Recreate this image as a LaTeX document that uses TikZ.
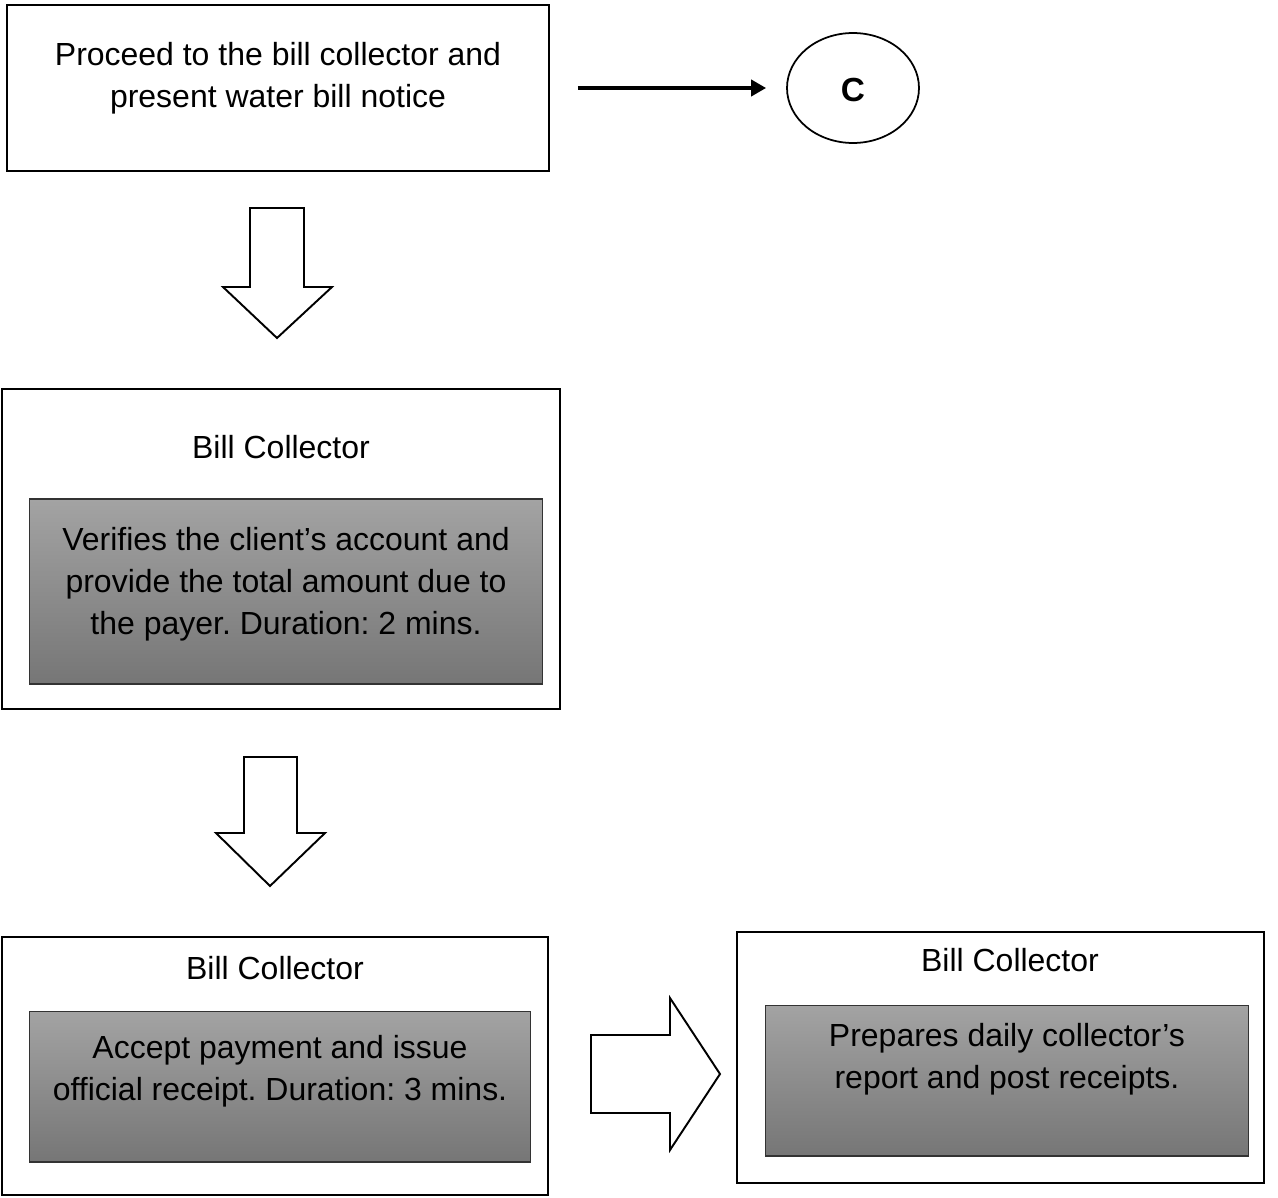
\documentclass[tikz,border=0pt]{standalone}
\usepackage{fontspec}
\setmainfont{Liberation Sans}
\usetikzlibrary{arrows.meta,shapes.geometric}
\definecolor{gtop}{RGB}{163,163,163}
\definecolor{gbot}{RGB}{118,118,118}
\frenchspacing
\begin{document}
\begin{tikzpicture}[x=0.02cm,y=-0.02cm,
  outerbox/.style={draw=black,line width=1.1pt,rectangle,inner sep=0pt},
  innerbox/.style={draw=black!80,line width=0.6pt,rectangle,inner sep=0pt,top color=gtop,bottom color=gbot},
  txt/.style={align=center,inner sep=0pt,font=\fontsize{18.2pt}{23.8pt}\selectfont},
  blockarrow/.style={draw=black,line width=1.1pt,fill=white,line join=miter}]
\useasboundingbox (0,0) rectangle (1278,1197);
% box 1
\node[outerbox,minimum width=10.84cm,minimum height=3.32cm] (b1) at (278,88) {};
\node[txt] (t1) at (278,78) {Proceed to the bill collector and\\present water bill notice};
% C circle
\node[draw,ellipse,line width=1pt,minimum width=2.64cm,minimum height=2.2cm,inner sep=0pt] (C) at (853,88) {};
\node[font=\fontsize{19pt}{22pt}\selectfont\bfseries,inner sep=0pt] (Ct) at (853,90) {C};
\draw[line width=2.2pt,-{Triangle[length=0.3cm,width=0.32cm]}] ([xshift=0.56cm]b1.east) -- ([xshift=-0.4cm]C.west);
% down arrow 1
\draw[blockarrow] (250,208) -- (304,208) -- (304,287) -- (332,287) -- (277,338) -- (223,287) -- (250,287) -- cycle;
% box 2
\node[outerbox,minimum width=11.16cm,minimum height=6.4cm] (b2) at (281,549) {};
\node[txt] (h2) at (281,447) {Bill Collector};
\node[innerbox,minimum width=10.28cm,minimum height=3.7cm] (i2) at (286,591.5) {};
\node[txt] (t2) at (286,584) {Verifies the client’s account and\\provide the total amount due to\\the payer. Duration: 2 mins.};
% down arrow 2
\draw[blockarrow] (244,757) -- (297,757) -- (297,833) -- (325,833) -- (270,886) -- (216,833) -- (244,833) -- cycle;
% box 3
\node[outerbox,minimum width=10.92cm,minimum height=5.16cm] (b3) at (275,1066) {};
\node[txt] (h3) at (275,968) {Bill Collector};
\node[innerbox,minimum width=10.04cm,minimum height=3.02cm] (i3) at (280,1086.5) {};
\node[txt] (t3) at (280,1071) {Accept payment and issue\\official receipt. Duration: 3 mins.};
% right arrow
\draw[blockarrow] (591,1035) -- (670,1035) -- (670,998) -- (720,1074) -- (670,1150) -- (670,1113) -- (591,1113) -- cycle;
% box 4
\node[outerbox,minimum width=10.54cm,minimum height=5.02cm] (b4) at (1000.5,1057.5) {};
\node[txt] (h4) at (1010,960) {Bill Collector};
\node[innerbox,minimum width=9.68cm,minimum height=3.02cm] (i4) at (1007,1080.5) {};
\node[txt] (t4) at (1007,1059) {Prepares daily collector’s\\report and post receipts.};
\end{tikzpicture}
\end{document}
